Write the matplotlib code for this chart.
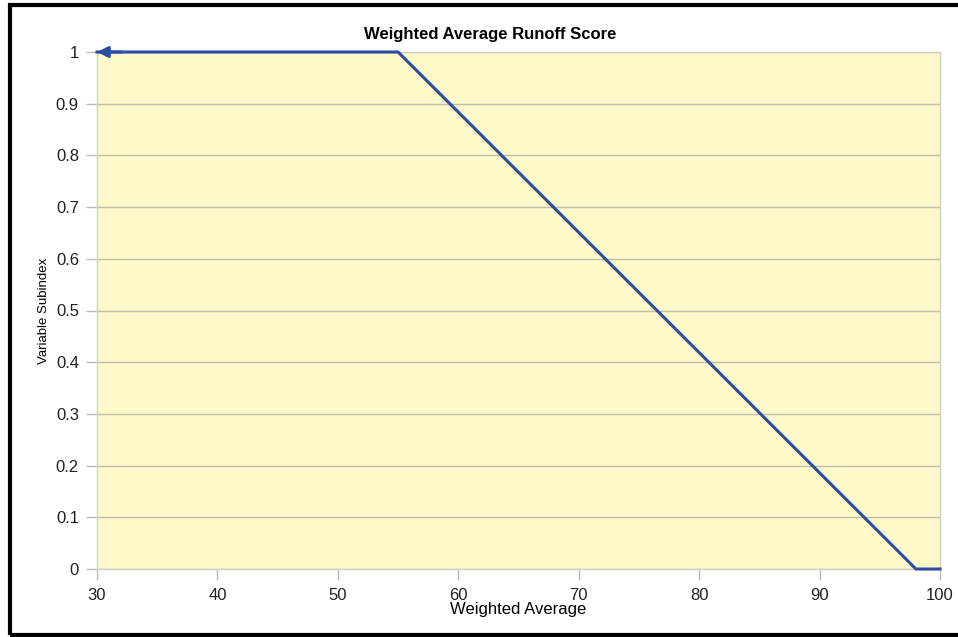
import numpy as np
import matplotlib.pyplot as plt
from matplotlib.patches import Rectangle

# curve points
weighted_avg = [30, 55, 98, 100]
subindex = [1.0, 1.0, 0.0, 0.0]

xticks = [30, 40, 50, 60, 70, 80, 90, 100]
yticks = [0, 0.1, 0.2, 0.3, 0.4, 0.5, 0.6, 0.7, 0.8, 0.9, 1]
ytick_labels = ["0", "0.1", "0.2", "0.3", "0.4", "0.5", "0.6", "0.7", "0.8", "0.9", "1"]

line_color = "#2B4DA3"
plt.rcParams["font.family"] = ["Liberation Sans", "DejaVu Sans"]

fig = plt.figure(figsize=(9.58, 6.37), dpi=100)
ax = fig.add_axes([97 / 958, 1 - 569 / 637, (940 - 97) / 958, (569 - 52) / 637])
ax.set_facecolor("#FEF9C8")

ax.plot(weighted_avg, subindex, color=line_color, lw=2.2, zorder=3, clip_on=False)
# arrowhead at the left end
ax.annotate("", xy=(weighted_avg[0], subindex[0]), xytext=(weighted_avg[0] + 2, subindex[0]),
            arrowprops=dict(arrowstyle="-|>", color=line_color, lw=2.2,
                            mutation_scale=16, shrinkA=0, shrinkB=0),
            annotation_clip=False, zorder=4)

ax.set_xlim(30, 100)
ax.set_ylim(0, 1)
ax.set_xticks(xticks)
ax.set_yticks(yticks)
ax.set_yticklabels(ytick_labels)
ax.yaxis.grid(True, color="#BDBDAA", lw=1)
ax.set_axisbelow(True)

for side in ["left", "bottom", "right", "top"]:
    ax.spines[side].set_color("#D0D0D0")
    ax.spines[side].set_linewidth(1)
ax.tick_params(axis="both", colors="#BBBBBB", length=8, width=1, labelcolor="#222222",
               labelsize=12)
ax.tick_params(axis="y", pad=5)
ax.tick_params(axis="x", pad=6)

ax.set_title("Weighted Average Runoff Score", fontsize=12, fontweight="bold", pad=9,
             x=(490 - 97) / (940 - 97))
ax.set_xlabel("Weighted Average", fontsize=12, labelpad=-1)
ax.set_ylabel("Variable Subindex", fontsize=9.5, labelpad=4)

# outer black frame (top, left, bottom)
fig.patches.append(Rectangle((9.5 / 958, 2 / 637), 1.1, 630 / 637, transform=fig.transFigure,
                             fill=False, edgecolor="black", lw=3))

fig.savefig("out.png", dpi=100)
